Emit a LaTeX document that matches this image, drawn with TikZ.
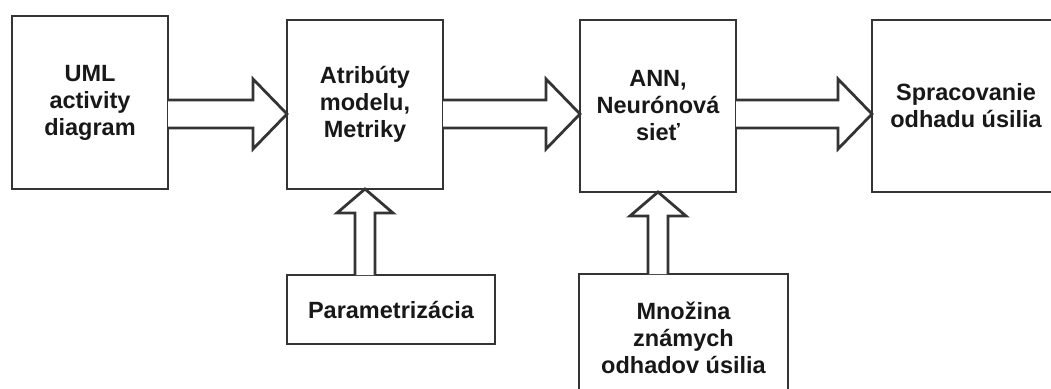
\documentclass[tikz,border=0pt]{standalone}
\usepackage{fontspec}
\setmainfont{Liberation Sans}
\usetikzlibrary{calc}
\definecolor{edge}{RGB}{52,52,52}
\definecolor{ink}{RGB}{24,24,24}
\tikzset{
  stage/.style={draw=edge, line width=2.8pt, rectangle, outer sep=0pt, inner sep=0pt,
    align=center, text=ink, font=\fontsize{23.5}{27}\selectfont\bfseries},
  blockarrow/.style={draw=edge, line width=2.8pt, line join=miter, fill=white}
}
\begin{document}
\begin{tikzpicture}[x=1pt, y=-1pt]
  \clip (0,0) rectangle (1051,388);
  \fill[white] (0,0) rectangle (1051,388);

  % main processing chain
  \node[stage, minimum width=156, minimum height=173] (uml)  at (90,102.5) {UML\\activity\\diagram};
  \node[stage, minimum width=156, minimum height=169] (attr) at (365,104.5) {Atribúty\\modelu,\\Metriky};
  \node[stage, minimum width=156, minimum height=172] (ann)  at (658,106) {ANN,\\Neurónová\\sieť};
  \node[stage, minimum width=188, minimum height=172] (proc) at (966,106) {Spracovanie\\odhadu úsilia};

  % side inputs
  \node[stage, minimum width=208, minimum height=69]  (param) at (391,309.5) {Parametrizácia};
  \node[stage, minimum width=209, minimum height=128] (known) at (683.5,338) {Množina\\známych\\odhadov úsilia};

  % row of the horizontal block arrows
  \coordinate (row) at (0,114);

  % horizontal hollow arrows: shaft half-width 14, head half-width 35, head length 34
  \foreach \a/\b in {uml/attr, attr/ann, ann/proc}{
    \draw[blockarrow]
      ($(\a.east|-row)+(0,-14)$) -- ($(\b.west|-row)+(-34,-14)$) --
      ($(\b.west|-row)+(-34,-35)$) -- (\b.west|-row) --
      ($(\b.west|-row)+(-34,35)$) -- ($(\b.west|-row)+(-34,14)$) --
      ($(\a.east|-row)+(0,14)$);
  }

  % vertical hollow arrows into the upper boxes
  \foreach \a/\b in {param/attr, known/ann}{
    \draw[blockarrow]
      ($(\a.north-|\b.south)+(-10,0)$) -- ($(\b.south)+(-10,24)$) --
      ($(\b.south)+(-28,24)$) -- (\b.south) --
      ($(\b.south)+(28,24)$) -- ($(\b.south)+(10,24)$) --
      ($(\a.north-|\b.south)+(10,0)$);
  }
\end{tikzpicture}
\end{document}
